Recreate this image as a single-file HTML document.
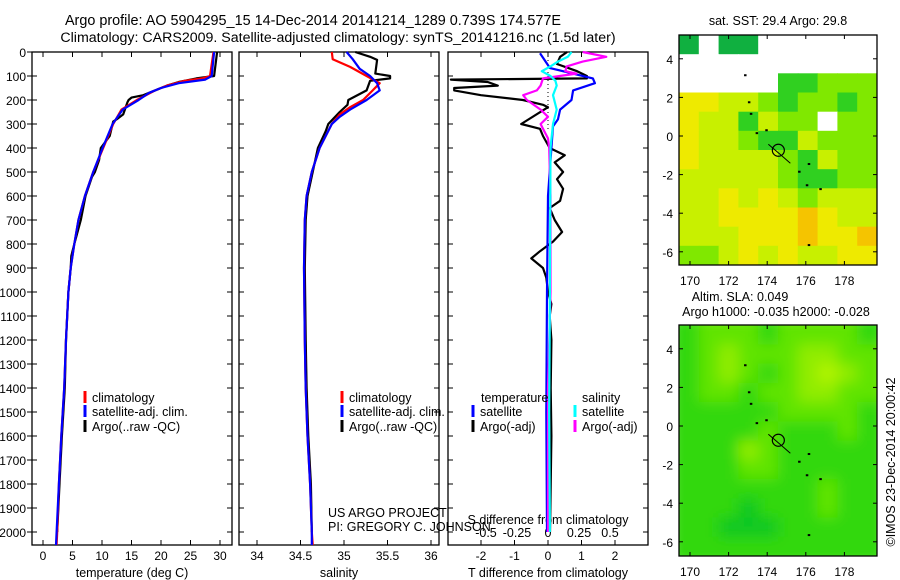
<!DOCTYPE html>
<html><head><meta charset="utf-8"><style>
html,body{margin:0;padding:0;background:#fff}
svg{display:block;font-family:"Liberation Sans",sans-serif}
text{fill:#000}
</style></head><body>
<svg id="fig" width="900" height="580" viewBox="0 0 900 580">
<defs>
<filter id="blur" x="-5%" y="-5%" width="110%" height="110%"><feGaussianBlur stdDeviation="7"/></filter>
<clipPath id="clipTop"><rect x="679" y="35" width="198" height="230"/></clipPath>
<clipPath id="clipBot"><rect x="679" y="325" width="198" height="231"/></clipPath>
</defs>
<text x="313" y="25" font-size="14.4" text-anchor="middle">Argo profile: AO 5904295_15 14-Dec-2014 20141214_1289 0.739S 174.577E</text>
<text x="338" y="42" font-size="14.2" text-anchor="middle">Climatology: CARS2009. Satellite-adjusted climatology: synTS_20141216.nc (1.5d later)</text>
<g id="g"></g>
</svg>
<script>
// ---------- data ----------
const depthTicks=[0,100,200,300,400,500,600,700,800,900,1000,1100,1200,1300,1400,1500,1600,1700,1800,1900,2000];
const tempTicks=[0,5,10,15,20,25,30];
const salTicks=[34,34.5,35,35.5,36];
const tdTicks=[-2,-1,0,1,2];
const sdTicks=[-0.5,-0.25,0,0.25,0.5];
const sdTickLabels=["-0.5","-0.25","0","0.25","0.5"];
const latTicks=[4,2,0,-2,-4,-6];
const lonTicks=[170,172,174,176,178];

const tClimDepth=[0,100,110,120,140,160,200,240,300,400,500,600,700,800,900,1000,1200,1400,1600,1800,2000,2054];
const tClimVal=[28.9,28.3,27,24,21,19,15.9,13.3,11.9,10.2,8.5,7.1,6.0,5.3,4.7,4.3,3.9,3.6,3.1,2.7,2.4,2.3];
const tSatDepth=[0,100,115,130,150,170,200,240,300,400,500,600,700,800,900,1000,1200,1400,1600,1800,2000,2054];
const tSatVal=[29.0,28.6,27.5,23,20,18,16.2,13.5,11.8,10.1,8.5,7.1,6.0,5.3,4.7,4.3,3.9,3.6,3.1,2.7,2.3,2.2];
const tArgoDepth=[0,100,110,125,140,170,180,190,200,210,260,280,290,300,350,400,450,500,520,600,700,800,850,900,1000,1200,1400,1600,1800,2000];
const tArgoVal=[29.5,29,26,23,21,18,17,15,14.5,14.3,13.6,12.5,11.9,11.8,11.3,9.8,9.5,8.8,8.3,7.2,6.4,5.3,4.8,4.7,4.3,3.9,3.7,3.2,2.8,2.4];

const sClimDepth=[0,30,62,100,130,160,200,230,260,300,400,500,600,700,900,1200,1400,1600,1800,2000,2054];
const sClimVal=[34.86,34.87,35.07,35.26,35.41,35.33,35.22,35.07,34.95,34.86,34.72,34.63,34.57,34.55,34.54,34.55,34.56,34.58,34.61,34.63,34.64];
const sSatDepth=[0,30,70,100,130,160,200,240,270,300,400,500,600,700,900,1200,1400,1600,1800,2000,2054];
const sSatVal=[35.03,35.1,35.18,35.30,35.38,35.41,35.26,35.07,34.95,34.86,34.72,34.63,34.57,34.55,34.54,34.55,34.56,34.58,34.61,34.63,34.63];
const sArgoDepth=[0,20,33,90,100,110,120,160,200,220,250,300,330,400,500,600,700,900,1200,1400,1600,1800,2000];
const sArgoVal=[35.13,35.3,35.38,35.36,35.53,35.53,35.3,35.26,35.05,35.04,34.95,34.82,34.79,34.70,34.64,34.58,34.56,34.55,34.56,34.57,34.59,34.62,34.63];

const dtSatDepth=[5,67,110,130,160,200,240,280,310,400,600,1000,1500,2000];
const dtSatVal=[-0.24,0.06,1.34,1.4,0.75,0.7,0.36,0.3,0.15,0.1,0.0,-0.03,-0.05,-0.03];
const dtArgoDepth=[0,20,50,80,100,110,115,125,140,150,160,180,200,220,230,300,320,350,400,430,460,500,530,570,620,650,700,750,790,830,860,900,940,1000,1050,1100,1200,1400,1600,1800,2000];
const dtArgoVal=[0.57,0.36,0.27,0.87,1.16,1.16,-2.9,-1.8,-1.5,-2.8,-2.8,-2.0,-0.75,-0.15,0.0,-0.8,-0.24,-0.15,0.05,0.5,0.2,0.45,0.27,0.45,0.36,0.05,0.2,0.42,0.15,-0.24,-0.5,-0.15,-0.05,0.0,0.1,0.05,0.1,0.08,0.1,0.08,0.06];
const dsArgoDepth=[0,20,40,60,80,90,110,140,160,180,200,240,270,300,320,360,400,600,1000,1400,2000];
const dsArgoVal=[0.28,0.47,0.28,0.15,0.14,0.23,-0.04,-0.06,-0.09,-0.2,-0.17,-0.06,0.0,-0.06,-0.04,0.0,0.01,0.02,0.02,0.0,0.0];
const dsSatDepth=[0,20,40,60,80,100,120,140,180,240,300,400,1000,1500,2000];
const dsSatVal=[0.19,0.16,0.08,0.02,-0.05,0.02,0.06,0.07,0.04,0.07,0.04,0.02,0.015,0.01,0.015];

// SST map (palette index), rows top(north)->bottom, 10 lon columns
const sstGrid=[
[1,0,1,1,0,0,0,0,0,0],
[0,0,0,0,0,0,0,0,0,0],
[0,0,0,0,0,2,2,3,3,3],
[5,5,4,4,3,2,3,3,2,3],
[5,4,4,2,4,3,3,0,3,3],
[5,4,4,3,2,2,4,3,3,3],
[5,4,4,4,4,3,2,4,3,3],
[4,4,4,4,4,3,2,2,3,3],
[4,4,5,4,5,4,3,4,4,4],
[4,4,5,5,5,5,6,5,4,4],
[4,4,4,5,5,5,6,5,5,6],
[3,3,4,5,4,5,4,4,5,5]];
const sstPalette=["#ffffff","#10b040","#30d020","#80e800","#c8f000","#eeea00","#f5c400"];
const slaGrid=[
[2,3,3,3,2,3,3,3,3,2],
[2,3,4,3,3,3,4,4,3,3],
[2,3,4,3,2,3,4,5,4,3],
[2,3,3,2,3,3,4,4,3,3],
[2,2,2,2,2,3,3,3,3,2],
[2,2,2,2,3,2,2,2,3,2],
[2,2,2,4,3,2,2,2,2,2],
[2,2,2,3,3,2,2,2,2,2],
[2,2,2,2,2,2,2,3,2,2],
[2,2,2,1,2,2,2,3,2,2],
[2,2,1,1,1,2,2,2,2,2],
[2,2,2,2,2,2,2,2,2,2]];
const slaPalette=["#00b000","#10c820","#30d810","#60e400","#90ec00","#b0f400"];
const argoLon=[174.577], argoLat=[-0.739];

// ---------- helpers ----------
const NS="http://www.w3.org/2000/svg";
const G=document.getElementById('g');
function mk(tag,attrs,parent){const e=document.createElementNS(NS,tag);for(const k in attrs)e.setAttribute(k,attrs[k]);(parent||G).appendChild(e);return e;}
const yD=d=>52+d*0.24;
const xT=t=>43+t*5.9;
const xS=s=>257+(s-34)*87;
const xDT=v=>548+v*33.5;
const xDS=v=>548+v*124;
const mapX=lon=>679+(lon-169.43)*19.3;
const latY0=lat=>136-lat*19.3;
const latY1=lat=>426-lat*19.3;

function line(xs,ys,fx,color,name,w){
  const pts=xs.map((v,i)=>fx(v).toFixed(1)+","+yD(ys[i]).toFixed(1)).join(" ");
  const p=mk('polyline',{points:pts,fill:'none',stroke:color,'stroke-width':w||2.2,'stroke-linejoin':'round'});
  
  
}
function panel(x0,x1,name){
  const r=mk('rect',{x:x0,y:52,width:x1-x0,height:493,fill:'none',stroke:'#000','stroke-width':1.3});
  
  
  depthTicks.forEach(d=>{mk('line',{x1:x0,x2:x0+5,y1:yD(d),y2:yD(d),stroke:'#000'});mk('line',{x1:x1,x2:x1-5,y1:yD(d),y2:yD(d),stroke:'#000'});});
}
function txt(x,y,s,size,anchor,name){const t=mk('text',{x:x,y:y,'font-size':size,'text-anchor':anchor||'start'});t.textContent=s;
  
  
  return t;}

// ---------- panel 1 temperature ----------
panel(32,232,'temperature-panel');
depthTicks.forEach(d=>{mk('line',{x1:27,x2:32,y1:yD(d),y2:yD(d),stroke:'#000'});txt(26,yD(d)+5,String(d),12,'end','depth-tick-label');});
tempTicks.forEach(t=>{mk('line',{x1:xT(t),x2:xT(t),y1:545,y2:540,stroke:'#000'});mk('line',{x1:xT(t),x2:xT(t),y1:52,y2:57,stroke:'#000'});txt(xT(t),560,String(t),12,'middle','temperature-tick-label');});
txt(132,577,'temperature (deg C)',12.5,'middle','temperature-axis-title');
line(tArgoVal,tArgoDepth,xT,'#000','temp-argo-line');
line(tClimVal,tClimDepth,xT,'#f00','temp-climatology-line');
line(tSatVal,tSatDepth,xT,'#00f','temp-satellite-line');

// ---------- panel 2 salinity ----------
panel(239,439,'salinity-panel');
salTicks.forEach(s=>{mk('line',{x1:xS(s),x2:xS(s),y1:545,y2:540,stroke:'#000'});mk('line',{x1:xS(s),x2:xS(s),y1:52,y2:57,stroke:'#000'});txt(xS(s),560,String(s),12,'middle','salinity-tick-label');});
txt(339,577,'salinity',12.5,'middle','salinity-axis-title');
line(sArgoVal,sArgoDepth,xS,'#000','sal-argo-line');
line(sClimVal,sClimDepth,xS,'#f00','sal-climatology-line');
line(sSatVal,sSatDepth,xS,'#00f','sal-satellite-line');

// legends
function legend(x,y,color,label,name){
  const b=mk('line',{x1:x,x2:x,y1:y-11,y2:y+1,stroke:color,'stroke-width':3});
  
  
  txt(x+7,y,label,12.5,'start',name+'-label');
}
legend(85,402,'#f00','climatology','legend-climatology');
legend(85,416,'#00f','satellite-adj. clim.','legend-satellite-adj');
legend(85,431,'#000','Argo(..raw -QC)','legend-argo');
legend(342,402,'#f00','climatology','legend-sal-climatology');
legend(342,416,'#00f','satellite-adj. clim.','legend-sal-satellite-adj');
legend(342,431,'#000','Argo(..raw -QC)','legend-sal-argo');
txt(328,517,'US ARGO PROJECT',12.5,'start','project-credit');
txt(328,531,'PI: GREGORY C. JOHNSON',12.5,'start','pi-credit');

// ---------- panel 3 differences ----------
panel(448,648,'difference-panel');
mk('line',{x1:548,x2:548,y1:52,y2:yD(330),stroke:'#000','stroke-dasharray':'1,3'});
tdTicks.forEach(v=>{mk('line',{x1:xDT(v),x2:xDT(v),y1:545,y2:540,stroke:'#000'});mk('line',{x1:xDT(v),x2:xDT(v),y1:52,y2:57,stroke:'#000'});txt(xDT(v),560,String(v),12,'middle','tdiff-tick-label');});
txt(548,577,'T difference from climatology',12.5,'middle','tdiff-axis-title');
sdTicks.forEach((v,i)=>txt(xDS(v),537,sdTickLabels[i],12.5,'middle','sdiff-tick-label'));
txt(548,524,'S difference from climatology',12.5,'middle','sdiff-axis-title');
line(dtArgoVal,dtArgoDepth,xDT,'#000','tdiff-argo-line');
line(dtSatVal,dtSatDepth,xDT,'#00f','tdiff-satellite-line');
line(dsArgoVal,dsArgoDepth,xDS,'#f0f','sdiff-argo-line');
line(dsSatVal,dsSatDepth,xDS,'#0ff','sdiff-satellite-line');
txt(481,402,'temperature',12.5,'start','legend-temperature-header');
txt(582,402,'salinity',12.5,'start','legend-salinity-header');
legend(473,416,'#00f','satellite','legend-tdiff-satellite');
legend(473,431,'#000','Argo(-adj)','legend-tdiff-argo');
legend(575,416,'#0ff','satellite','legend-sdiff-satellite');
legend(575,431,'#f0f','Argo(-adj)','legend-sdiff-argo');

// ---------- maps ----------
function map(grid,pal,top,latY,clip,blur,name){
  const grp=mk('g',{'clip-path':'url(#'+clip+')'});
  
  
  const inner=mk('g',blur?{filter:'url(#blur)'}:{},grp);
  const cw=198/grid[0].length, ch=(top===35?230:231)/grid.length;
  grid.forEach((row,r)=>row.forEach((v,c)=>{
    const cell=mk('rect',{x:(679+c*cw-(blur?10:0)*(c===0)).toFixed(1),y:(top+r*ch-(blur?10:0)*(r===0)).toFixed(1),width:(cw+0.6+(blur?10:0)*((c===0)+(c===row.length-1))).toFixed(1),height:(ch+0.6+(blur?10:0)*((r===0)+(r===grid.length-1))).toFixed(1),fill:pal[v]},inner);
    
    
  }));
  const h=top===35?230:231;
  mk('rect',{x:679,y:top,width:198,height:h,fill:'none',stroke:'#000','stroke-width':1.3});
  latTicks.forEach(l=>{const y=latY(l);mk('line',{x1:679,x2:683,y1:y,y2:y,stroke:'#000'});mk('line',{x1:877,x2:873,y1:y,y2:y,stroke:'#000'});txt(673,y+5,String(l),12,'end','lat-tick-label');});
  lonTicks.forEach(l=>{const x=mapX(l);mk('line',{x1:x,x2:x,y1:top,y2:top+4,stroke:'#000'});mk('line',{x1:x,x2:x,y1:top+h,y2:top+h-4,stroke:'#000'});txt(x,top+h+20,String(l),12,'middle','lon-tick-label');});
  argoLon.forEach((lo,i)=>{
    const c=mk('circle',{cx:mapX(lo),cy:latY(argoLat[i]),r:6,fill:'none',stroke:'#000','stroke-width':1.2});
    
    
    mk('polyline',{points:`${mapX(lo)-10},${latY(argoLat[i])-6} ${mapX(lo)+4},${latY(argoLat[i])+6} ${mapX(lo)+12},${latY(argoLat[i])+13}`,fill:'none',stroke:'#000','stroke-width':1});
  });
  [[172.8,3.2],[173,1.8],[173.1,1.2],[173.4,0.2],[173.9,0.35],[175.6,-1.8],[176.1,-1.4],[176.7,-2.7],[176,-2.5],[176.1,-5.6]].forEach(p=>mk('rect',{x:mapX(p[0]),y:latY(p[1]),width:2.5,height:2,fill:'#000'}));
}
map(sstGrid,sstPalette,35,latY0,'clipTop',false,'sst-map');
txt(778,25,'sat. SST: 29.4  Argo: 29.8',12.5,'middle','sst-map-title');
map(slaGrid,slaPalette,325,latY1,'clipBot',true,'sla-map');
txt(740,301,'Altim. SLA: 0.049',12.5,'middle','sla-map-title');
txt(776,316,'Argo h1000: -0.035 h2000: -0.028',12.5,'middle','sla-map-subtitle');
const cr=txt(0,0,'©IMOS 23-Dec-2014 20:00:42',12.5,'middle','imos-credit');
cr.setAttribute('transform','translate(895,462) rotate(-90)');
</script>
</body></html>
